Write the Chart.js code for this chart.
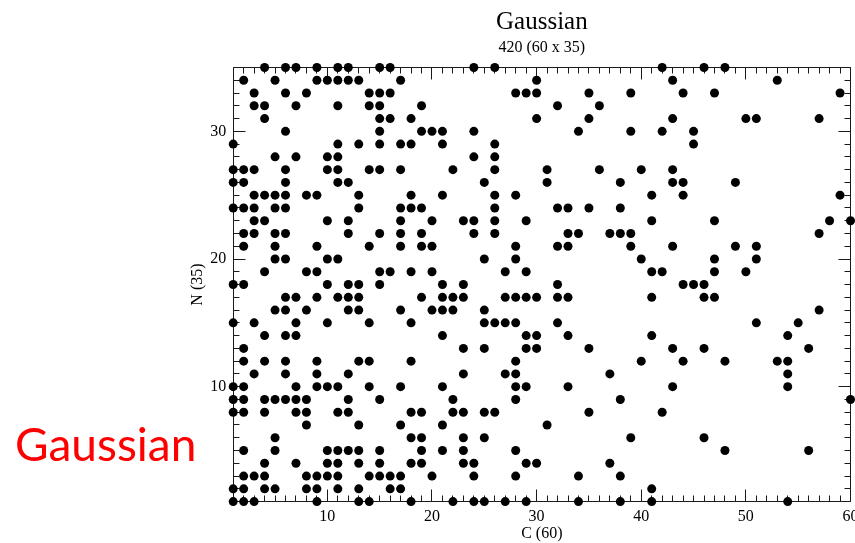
<!DOCTYPE html>
<html>
<head>
<meta charset="utf-8">
<script src="https://cdn.jsdelivr.net/npm/chart.js@4/dist/chart.umd.min.js"></script>
<style>
  html, body { margin: 0; padding: 0; background: #fff; }
  #wrap { position: relative; width: 855px; height: 543px; overflow: hidden; }
  #c { position: absolute; left: 0; top: 0; }
  #tag { position: absolute; left: 15px; top: 421px; font: 46px Lato, "Open Sans", sans-serif;
         color: #ff0000; line-height: 1; white-space: nowrap; }
</style>
</head>
<body>
<div id="wrap">
  <canvas id="c" width="855" height="543"></canvas>
  <div id="tag">Gaussian</div>
</div>
<script>
// Titles and axis labels
const titleText = 'Gaussian';
const subtitleText = '420 (60 x 35)';
const xTitle = 'C (60)';
const yTitle = 'N (35)';
const xTicks = [10, 20, 30, 40, 50, 60];
const yTicks = [10, 20, 30];

// Filled cells: for each N row (top row first), the C columns that hold a dot
const rowN = [35, 34, 33, 32, 31, 30, 29, 28, 27, 26, 25, 24, 23, 22, 21, 20, 19, 18,
              17, 16, 15, 14, 13, 12, 11, 10, 9, 8, 7, 6, 5, 4, 3, 2, 1];
const rowC = [
  [4, 6, 7, 9, 11, 12, 15, 16, 24, 26, 42, 46, 48],
  [2, 5, 9, 10, 11, 12, 13, 17, 30, 43, 53],
  [3, 6, 8, 14, 15, 16, 28, 29, 30, 35, 39, 44, 47, 59],
  [3, 4, 7, 11, 14, 15, 19, 32, 36],
  [4, 15, 16, 18, 30, 35, 43, 50, 51, 57],
  [6, 15, 19, 20, 21, 24, 34, 39, 42, 45],
  [1, 11, 13, 15, 17, 18, 21, 26, 45],
  [5, 7, 10, 11, 24, 26],
  [1, 2, 3, 6, 10, 11, 14, 15, 17, 22, 26, 31, 36, 40, 43],
  [1, 2, 6, 11, 12, 25, 31, 38, 43, 44, 49],
  [3, 4, 5, 6, 8, 9, 13, 18, 21, 26, 28, 41, 44, 59],
  [1, 2, 3, 5, 6, 13, 17, 18, 19, 26, 32, 33, 35, 38],
  [3, 4, 10, 12, 17, 20, 23, 24, 26, 29, 41, 47, 58, 60],
  [2, 3, 5, 6, 12, 15, 17, 19, 24, 26, 33, 34, 37, 38, 39, 57],
  [2, 5, 9, 14, 17, 19, 20, 28, 32, 33, 39, 43, 49, 51],
  [5, 6, 10, 11, 25, 28, 40, 47, 51],
  [4, 8, 9, 15, 16, 18, 20, 27, 29, 41, 42, 47, 50],
  [1, 2, 10, 12, 13, 15, 21, 23, 32, 44, 45, 46],
  [6, 7, 9, 11, 12, 13, 19, 21, 22, 23, 27, 28, 29, 30, 32, 33, 41, 46, 47],
  [5, 6, 8, 12, 13, 17, 20, 21, 22, 25, 57],
  [1, 3, 7, 10, 14, 18, 25, 26, 27, 28, 32, 51, 55],
  [4, 6, 7, 21, 29, 30, 33, 41, 54],
  [2, 23, 25, 29, 30, 35, 43, 46, 56],
  [2, 4, 6, 9, 13, 14, 18, 28, 40, 44, 48, 53, 54],
  [3, 6, 9, 12, 23, 27, 28, 37, 54],
  [1, 2, 7, 9, 10, 11, 14, 17, 21, 28, 29, 33, 43, 54],
  [1, 2, 4, 5, 6, 7, 8, 12, 15, 22, 28, 38, 60],
  [1, 2, 4, 7, 8, 11, 12, 18, 19, 22, 23, 25, 26, 35, 42],
  [8, 13, 17, 21, 31],
  [5, 18, 19, 23, 25, 39, 46],
  [2, 5, 10, 11, 12, 13, 15, 19, 21, 23, 28, 48, 56],
  [4, 7, 10, 11, 13, 15, 18, 19, 23, 24, 29, 30, 37],
  [2, 3, 4, 8, 9, 10, 11, 14, 15, 16, 17, 20, 24, 28, 34, 38],
  [1, 2, 4, 5, 8, 9, 11, 13, 16, 17, 41],
  [1, 2, 3, 9, 13, 14, 18, 22, 24, 25, 27, 29, 34, 38, 41, 54]
];

const SERIF = '"Liberation Serif", "Times New Roman", serif';

const points = [];
rowN.forEach((n, i) => rowC[i].forEach(c => points.push({ x: c, y: n })));

// Closed frame with inward ticks on all four sides: long at multiples of 10, short at every unit
const frameTicks = {
  id: 'frameTicks',
  beforeDatasetsDraw(chart) {
    const { ctx, chartArea: a, scales: { x, y } } = chart;
    const px = v => Math.round(v - 0.5) + 0.5;
    const L = px(a.left), R = px(a.right), T = px(a.top), B = px(a.bottom);
    ctx.save();
    ctx.strokeStyle = '#1a1a1a';
    ctx.lineWidth = 1;
    ctx.beginPath();
    ctx.rect(L, T, R - L, B - T);
    for (let c = Math.ceil(x.min); c <= x.max; c++) {
      const p = px(x.getPixelForValue(c));
      const len = c % 10 === 0 ? 12 : 6;
      ctx.moveTo(p, B); ctx.lineTo(p, B - len);
      ctx.moveTo(p, T); ctx.lineTo(p, T + len);
    }
    for (let n = Math.ceil(y.min); n <= y.max; n++) {
      const p = px(y.getPixelForValue(n));
      const len = n % 10 === 0 ? 12 : 6;
      ctx.moveTo(L, p); ctx.lineTo(L + len, p);
      ctx.moveTo(R, p); ctx.lineTo(R - len, p);
    }
    ctx.stroke();
    ctx.restore();
  }
};

new Chart(document.getElementById('c'), {
  type: 'scatter',
  data: {
    datasets: [{
      data: points,
      pointRadius: 4.5,
      pointHoverRadius: 4.5,
      pointBackgroundColor: '#000',
      pointBorderWidth: 0,
      clip: false
    }]
  },
  options: {
    responsive: false,
    animation: false,
    devicePixelRatio: 1,
    events: [],
    layout: { padding: { left: 188, right: 0.7, top: 0, bottom: 0 } },
    plugins: {
      legend: { display: false },
      tooltip: { enabled: false },
      title: {
        display: true, text: titleText, fullSize: false, color: '#000',
        font: { family: SERIF, size: 25, weight: 'normal' },
        padding: { top: 7, bottom: 0 }
      },
      subtitle: {
        display: true, text: subtitleText, fullSize: false, color: '#000',
        font: { family: SERIF, size: 16, weight: 'normal' },
        padding: { top: 1, bottom: 10.3 }
      }
    },
    scales: {
      x: {
        type: 'linear', position: 'bottom', min: 1, max: 60,
        grid: { display: false, drawTicks: false },
        border: { display: false },
        afterBuildTicks: s => { s.ticks = xTicks.map(v => ({ value: v })); },
        afterFit: s => { s.height = 41.4; s.paddingLeft = 0; s.paddingRight = 0; },
        ticks: { color: '#000', font: { family: SERIF, size: 16 }, padding: 5.5, maxRotation: 0, autoSkip: false },
        title: { display: true, text: xTitle, color: '#000', font: { family: SERIF, size: 16 }, padding: { top: 0, bottom: 0 } }
      },
      y: {
        type: 'linear', position: 'left', min: 1, max: 35,
        grid: { display: false, drawTicks: false },
        border: { display: false },
        afterBuildTicks: s => { s.ticks = yTicks.map(v => ({ value: v })); },
        afterFit: s => { s.width = 45.2; s.paddingTop = 0; s.paddingBottom = 0; },
        ticks: { color: '#000', font: { family: SERIF, size: 16 }, padding: 7, autoSkip: false },
        title: { display: true, text: yTitle, color: '#000', font: { family: SERIF, size: 16 }, padding: { top: 0, bottom: 0 } }
      }
    }
  },
  plugins: [frameTicks]
});
</script>
</body>
</html>
